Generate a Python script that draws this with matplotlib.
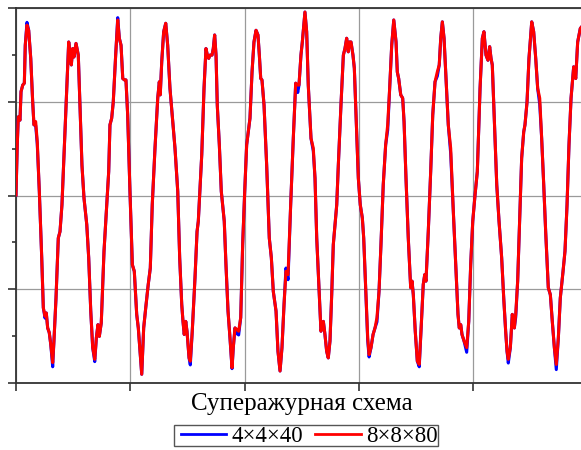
import matplotlib
matplotlib.use("Agg")
import matplotlib.pyplot as plt
from matplotlib.patches import Rectangle

t = [0.000, 0.011, 0.020, 0.035, 0.044, 0.059, 0.073, 0.081, 0.096, 0.111,
     0.129, 0.146, 0.157, 0.172, 0.186, 0.204, 0.225, 0.239, 0.254, 0.265,
     0.277, 0.291, 0.304, 0.321, 0.332, 0.350, 0.370, 0.385, 0.402, 0.420,
     0.444, 0.461, 0.472, 0.484, 0.496, 0.507, 0.525, 0.545, 0.560, 0.577,
     0.595, 0.619, 0.636, 0.654, 0.671, 0.689, 0.703, 0.717, 0.729, 0.746,
     0.770, 0.794, 0.811, 0.822, 0.837, 0.851, 0.872, 0.890, 0.904, 0.919,
     0.934, 0.948, 0.962, 0.977, 0.997, 1.018, 1.035, 1.056, 1.070, 1.085,
     1.100, 1.117, 1.135, 1.157, 1.175, 1.192, 1.216, 1.240, 1.254, 1.262,
     1.275, 1.292, 1.310, 1.327, 1.347, 1.371, 1.391, 1.415, 1.432, 1.450,
     1.461, 1.472, 1.485, 1.496, 1.514, 1.525, 1.542, 1.566, 1.584, 1.595,
     1.625, 1.645, 1.662, 1.674, 1.686, 1.697, 1.715, 1.726, 1.738, 1.750,
     1.761, 1.779, 1.796, 1.808, 1.822, 1.837, 1.855, 1.872, 1.890, 1.901,
     1.916, 1.931, 1.948, 1.966, 1.983, 2.001, 2.018, 2.047, 2.065, 2.082,
     2.100, 2.117, 2.129, 2.141, 2.152, 2.170, 2.193, 2.216, 2.234, 2.251,
     2.275, 2.292, 2.310, 2.327, 2.345, 2.362, 2.380, 2.403, 2.426, 2.447,
     2.465, 2.476, 2.493, 2.505, 2.528, 2.543, 2.557, 2.581, 2.601, 2.616,
     2.631, 2.651, 2.668, 2.689, 2.703, 2.718, 2.732, 2.747, 2.762, 2.776,
     2.806, 2.820, 2.843, 2.864, 2.878, 2.893, 2.907, 2.916, 2.931, 2.948,
     2.960, 2.977, 2.995, 3.012, 3.030, 3.042, 3.059, 3.077, 3.089, 3.106,
     3.124, 3.141, 3.158, 3.176, 3.193, 3.213, 3.234, 3.252, 3.269, 3.287,
     3.305, 3.325, 3.336, 3.348, 3.366, 3.383, 3.395, 3.412, 3.432, 3.453,
     3.465, 3.476, 3.493, 3.511, 3.528, 3.546, 3.563, 3.576, 3.587, 3.607,
     3.628, 3.646, 3.666, 3.686, 3.703, 3.716, 3.730, 3.745, 3.762, 3.782,
     3.803, 3.826, 3.850, 3.867, 3.878, 3.891, 3.902, 3.920, 3.943, 3.961,
     3.978, 3.996, 4.016, 4.036, 4.060, 4.080, 4.094, 4.112, 4.129, 4.144,
     4.156, 4.167, 4.185, 4.206, 4.226, 4.249, 4.267, 4.284, 4.296, 4.307,
     4.325, 4.342, 4.360, 4.372, 4.389, 4.407, 4.424, 4.442, 4.453, 4.471,
     4.488, 4.512, 4.529, 4.547, 4.564, 4.582, 4.599, 4.617, 4.634, 4.657,
     4.675, 4.692, 4.710, 4.727, 4.745, 4.762, 4.786, 4.803, 4.821, 4.838,
     4.856, 4.879, 4.897, 4.914, 4.937, 4.961]

y_8x8x80 = [0.01, 1.08, 1.68, 1.61, 2.22, 2.36, 2.40, 3.21, 3.64, 3.53,
            2.93, 2.00, 1.51, 1.58, 1.15, 0.09, -1.33, -2.40, -2.58, -2.51,
            -2.83, -2.93, -3.18, -3.57, -3.11, -2.19, -0.91, -0.77, -0.20, 0.87,
            2.29, 3.28, 3.07, 2.79, 3.14, 2.96, 3.25, 3.00, 1.93, 0.65,
            -0.06, -0.62, -1.33, -2.47, -3.25, -3.50, -3.04, -2.76, -3.01, -2.72,
            -1.19, -0.20, 0.51, 1.51, 1.65, 2.00, 3.00, 3.75, 3.36, 3.21,
            2.50, 2.47, 2.47, 1.72, 0.09, -1.48, -1.62, -2.54, -2.83, -3.33,
            -3.82, -2.83, -2.40, -1.90, -1.55, -0.20, 1.01, 2.08, 2.43, 2.15,
            2.86, 3.50, 3.68, 3.21, 2.29, 1.58, 1.01, 0.09, -1.33, -2.33,
            -2.69, -2.97, -2.69, -2.90, -3.47, -3.54, -2.90, -1.76, -0.77, -0.55,
            0.87, 2.29, 3.14, 3.00, 2.93, 3.00, 3.00, 3.14, 3.43, 3.00,
            1.93, 1.08, 0.09, -0.20, -0.55, -1.48, -2.47, -3.04, -3.68, -3.25,
            -2.83, -2.86, -2.90, -2.61, -1.05, 0.09, 1.08, 1.65, 2.64, 3.28,
            3.53, 3.43, 3.00, 2.50, 2.47, 1.93, 0.65, -0.91, -1.33, -2.05,
            -2.47, -3.33, -3.75, -3.25, -2.33, -1.62, -1.69, -0.20, 1.22, 2.40,
            2.36, 2.36, 3.00, 3.28, 3.92, 3.50, 2.36, 1.22, 1.01, 0.37,
            -0.91, -1.97, -2.90, -2.69, -2.97, -3.33, -3.47, -3.11, -2.12, -1.05,
            -0.20, 0.65, 1.93, 3.00, 3.14, 3.36, 3.07, 3.28, 3.28, 3.00,
            2.72, 1.58, 0.37, -0.20, -0.48, -0.91, -1.97, -3.04, -3.40, -3.25,
            -2.97, -2.83, -2.61, -2.05, -1.05, 0.23, 1.08, 1.51, 2.29, 3.21,
            3.75, 3.28, 2.64, 2.50, 2.15, 2.08, 1.58, 0.37, -0.91, -1.97,
            -1.83, -2.12, -2.90, -3.54, -3.61, -2.76, -1.90, -1.69, -1.83, -0.77,
            0.51, 1.72, 2.43, 2.64, 2.79, 3.36, 3.71, 3.36, 2.50, 1.51,
            1.01, -0.34, -1.62, -2.54, -2.83, -2.76, -2.97, -3.11, -3.25, -2.69,
            -1.48, -0.55, 0.01, 0.51, 2.29, 3.36, 3.50, 3.00, 2.89, 3.18,
            2.93, 2.79, 1.58, 0.23, -0.55, -1.33, -2.19, -2.90, -3.33, -3.50,
            -3.25, -2.54, -2.83, -2.54, -1.83, -0.48, 0.80, 1.36, 1.51, 2.00,
            2.93, 3.71, 3.50, 2.93, 2.29, 2.08, 1.22, 0.23, -0.77, -1.97,
            -2.12, -2.69, -3.25, -3.61, -3.04, -2.19, -1.62, -1.19, -0.20, 1.08,
            2.08, 2.75, 2.50, 3.28, 3.57, 3.64]

y_4x4x40 = [0.01, 1.08, 1.68, 1.61, 2.22, 2.36, 2.40, 3.21, 3.70, 3.53,
            2.93, 2.00, 1.51, 1.50, 1.10, 0.09, -1.33, -2.40, -2.62, -2.51,
            -2.83, -2.93, -3.18, -3.66, -3.11, -2.19, -0.91, -0.77, -0.20, 0.87,
            2.29, 3.28, 3.07, 2.79, 3.14, 2.96, 3.25, 3.00, 1.93, 0.65,
            -0.06, -0.62, -1.33, -2.47, -3.25, -3.55, -3.04, -2.76, -3.01, -2.72,
            -1.19, -0.20, 0.51, 1.51, 1.65, 2.00, 3.00, 3.80, 3.36, 3.21,
            2.50, 2.47, 2.47, 1.72, 0.09, -1.48, -1.62, -2.54, -2.83, -3.33,
            -3.82, -2.83, -2.40, -1.90, -1.55, -0.20, 1.01, 2.08, 2.43, 2.15,
            2.86, 3.50, 3.68, 3.21, 2.29, 1.58, 1.01, 0.09, -1.33, -2.33,
            -2.69, -2.97, -2.69, -2.90, -3.47, -3.62, -2.90, -1.76, -0.77, -0.55,
            0.87, 2.29, 3.14, 3.00, 2.93, 3.00, 3.00, 3.14, 3.43, 3.00,
            1.93, 1.08, 0.09, -0.20, -0.55, -1.48, -2.47, -3.04, -3.70, -3.25,
            -2.83, -2.95, -2.98, -2.61, -1.05, 0.09, 1.08, 1.65, 2.64, 3.28,
            3.53, 3.43, 3.00, 2.50, 2.47, 1.93, 0.65, -0.91, -1.33, -2.05,
            -2.47, -3.33, -3.75, -3.25, -2.33, -1.55, -1.80, -0.20, 1.22, 2.40,
            2.20, 2.36, 3.00, 3.28, 3.92, 3.50, 2.36, 1.22, 0.95, 0.37,
            -0.91, -1.97, -2.90, -2.69, -2.97, -3.33, -3.47, -3.11, -2.12, -1.05,
            -0.20, 0.65, 1.93, 3.00, 3.14, 3.36, 3.07, 3.28, 3.28, 3.00,
            2.72, 1.58, 0.37, -0.20, -0.48, -0.91, -1.97, -3.10, -3.45, -3.25,
            -2.97, -2.83, -2.70, -2.05, -1.05, 0.23, 1.08, 1.40, 2.29, 3.21,
            3.75, 3.28, 2.64, 2.50, 2.15, 2.08, 1.58, 0.37, -0.91, -1.97,
            -1.83, -2.12, -2.90, -3.54, -3.66, -2.76, -1.90, -1.69, -1.83, -0.77,
            0.51, 1.72, 2.43, 2.55, 2.79, 3.36, 3.71, 3.36, 2.50, 1.51,
            0.90, -0.34, -1.62, -2.54, -2.83, -2.76, -2.97, -3.11, -3.35, -2.69,
            -1.48, -0.55, 0.01, 0.51, 2.29, 3.36, 3.50, 3.00, 2.89, 3.18,
            2.93, 2.79, 1.58, 0.23, -0.55, -1.33, -2.19, -2.90, -3.33, -3.58,
            -3.25, -2.54, -2.83, -2.60, -1.83, -0.48, 0.80, 1.36, 1.51, 2.00,
            2.93, 3.71, 3.50, 2.93, 2.29, 1.95, 1.22, 0.23, -0.77, -1.97,
            -2.12, -2.69, -3.25, -3.72, -3.04, -2.19, -1.62, -1.19, -0.20, 1.08,
            2.08, 2.75, 2.50, 3.28, 3.57, 3.64]

series_labels = ["4\u00d74\u00d740", "8\u00d78\u00d780"]
xlabel_text = "Суперажурная схема"
x_major = [0, 1, 2, 3, 4, 5]
y_major = [-4, -2, 0, 2, 4]
y_minor = [-3, -1, 1, 3]

plt.rcParams['font.family'] = ['Liberation Serif', 'DejaVu Serif']

W, H = 581, 450
fig = plt.figure(figsize=(W / 100, H / 100), dpi=100)
ax = fig.add_axes([16 / W, 1 - 382.7 / H, 571.5 / W, (382.7 - 8.3) / H])

ax.plot(t, y_4x4x40, color='#0000ff', lw=2.2, label=series_labels[0], zorder=3)
ax.plot(t, y_8x8x80, color='#ff0000', lw=2.2, label=series_labels[1], zorder=4)

ax.set_xlim(0, 5)
ax.set_ylim(-4, 4)
ax.set_xticks(x_major)
ax.set_yticks(y_major)
ax.set_yticks(y_minor, minor=True)
ax.set_xticklabels([])
ax.set_yticklabels([])
ax.grid(True, which='major', color='#9a9a9a', lw=0.9)
ax.tick_params(axis='both', which='major', direction='out', length=6, width=1.1, color='#222222')
ax.tick_params(axis='y', which='minor', direction='out', length=3, width=1.1, color='#222222')
for s in ax.spines.values():
    s.set_linewidth(1.3)
    s.set_color('#333333')

fig.text(301.75 / W, 1 - 404 / H, xlabel_text, ha='center', va='center', fontsize=18)

leg = ax.legend(loc='center', bbox_to_anchor=(309 / W, 1 - 436 / H),
                bbox_transform=fig.transFigure, ncol=2, frameon=False,
                fontsize=16.5, handlelength=2.0, handletextpad=0.2,
                columnspacing=0.55, borderpad=0.0, borderaxespad=0.0)
for line in leg.get_lines():
    line.set_linewidth(2.0)

fig.patches.append(Rectangle((174 / W, 1 - 446 / H), 264 / W, 21 / H,
                             transform=fig.transFigure, fill=False,
                             edgecolor='#555555', lw=1.0))

fig.savefig('out.png', dpi=100)
